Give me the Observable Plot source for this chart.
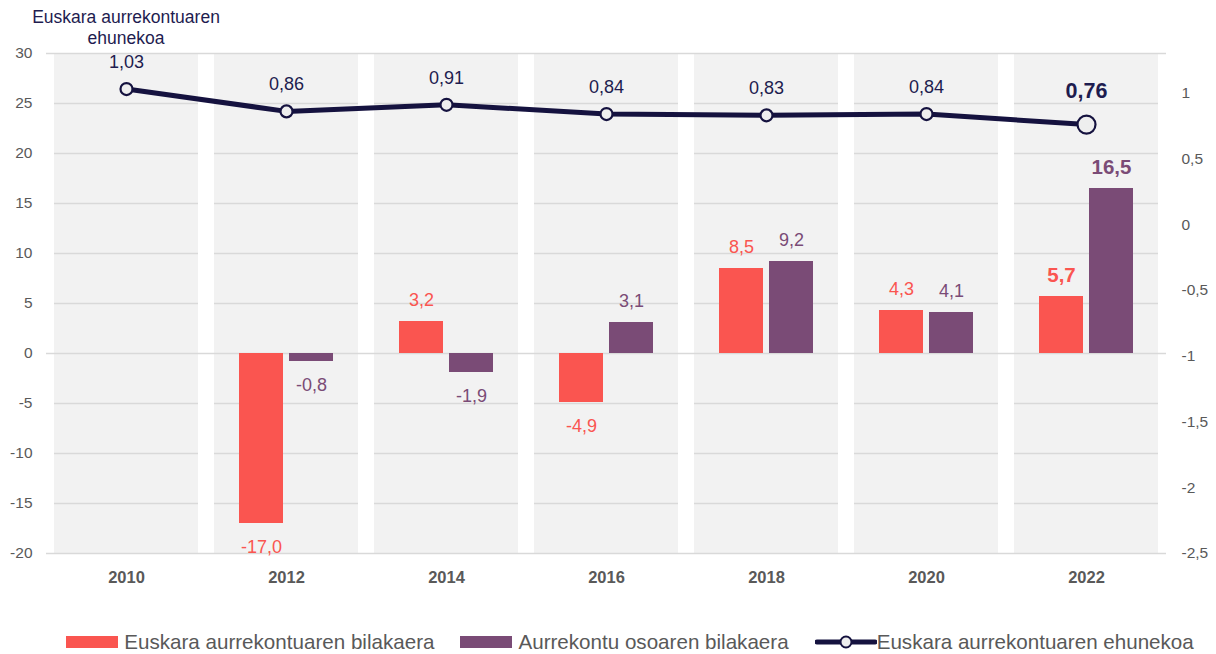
<!DOCTYPE html>
<html>
<head>
<meta charset="utf-8">
<script src="https://cdn.jsdelivr.net/npm/d3@7"></script>
<script src="https://cdn.jsdelivr.net/npm/@observablehq/plot@0.6"></script>
<style>
  html, body { margin: 0; padding: 0; background: #fff; }
  #wrap { position: relative; width: 1216px; height: 654px; font-family: "Liberation Sans", Arial, sans-serif; overflow: hidden; }
  #title { position: absolute; left: 0; top: 7px; width: 252px; text-align: center; font-size: 17.5px; line-height: 21px; color: #1e1c4f; }
  #legend { position: absolute; left: 22px; top: 630px; width: 1216px; display: flex; justify-content: center; align-items: center; gap: 0; font-size: 20.6px; color: #595959; }
  .item { display: flex; align-items: center; margin: 0 13px; }
  .sw { display: inline-block; width: 52px; height: 12px; margin-right: 6px; }
</style>
</head>
<body>
<div id="wrap">
  <div id="chart"></div>
  <div id="title">Euskara aurrekontuaren<br>ehunekoa</div>
  <div id="legend"></div>
</div>
<script>
const years = ["2010", "2012", "2014", "2016", "2018", "2020", "2022"];
const euskaraChange = [null, -17.0, 3.2, -4.9, 8.5, 4.3, 5.7];
const totalChange = [null, -0.8, -1.9, 3.1, 9.2, 4.1, 16.5];
const euskaraShare = [1.03, 0.86, 0.91, 0.84, 0.83, 0.84, 0.76];
const leftTicks = [-20, -15, -10, -5, 0, 5, 10, 15, 20, 25, 30];
const rightTicks = [-2.5, -2, -1.5, -1, -0.5, 0, 0.5, 1];
const leftDomain = [-20, 30];
const rightDomain = [-2.5, 1.3];
const seriesNames = ["Euskara aurrekontuaren bilakaera", "Aurrekontu osoaren bilakaera", "Euskara aurrekontuaren ehunekoa"];

const RED = "#fa5550", PURPLE = "#7a4b76", NAVY = "#15123f";
const toLeft = v => leftDomain[0] + (v - rightDomain[0]) / (rightDomain[1] - rightDomain[0]) * (leftDomain[1] - leftDomain[0]);
const fromLeft = v => rightDomain[0] + (v - leftDomain[0]) / (leftDomain[1] - leftDomain[0]) * (rightDomain[1] - rightDomain[0]);
const comma = (v, d) => v.toFixed(d).replace(".", ",");

const rows = years.map((year, i) => ({year, red: euskaraChange[i], purple: totalChange[i], share: euskaraShare[i]}));
const grid = years.flatMap(year => leftTicks.filter(t => t !== -20 && t !== 0 && t !== 30).map(t => ({year, t})));
const last = years[years.length - 1];

function barLabels(key, color, dx) {
  const data = rows.filter(d => d[key] != null);
  const common = {x: "year", y: key, dx, fill: color, text: d => comma(d[key], 1)};
  return [
    Plot.text(data.filter(d => d[key] >= 0 && d.year !== last), {...common, dy: -21, fontSize: 18}),
    Plot.text(data.filter(d => d[key] < 0 && d.year !== last), {...common, dy: 24, fontSize: 18}),
    Plot.text(data.filter(d => d.year === last), {...common, dy: -21, fontSize: 20.5, fontWeight: "bold"})
  ];
}

const chart = Plot.plot({
  width: 1216,
  height: 600,
  marginTop: 53,
  marginBottom: 47,
  marginLeft: 46,
  marginRight: 50,
  style: {fontFamily: "Liberation Sans, Arial, sans-serif", fontSize: "15px", color: "#595959", background: "transparent"},
  x: {type: "band", domain: years, paddingInner: 0.1, paddingOuter: 0.05, label: null},
  y: {domain: leftDomain, label: null},
  marks: [
    Plot.barY(years, {x: d => d, y1: leftDomain[0], y2: leftDomain[1], fill: "#f2f2f2"}),
    Plot.tickY(grid, {x: "year", y: "t", stroke: "#d9d9d9", strokeWidth: 1.5}),
    Plot.ruleY([leftDomain[0], 0, leftDomain[1]], {stroke: "#d9d9d9", strokeWidth: 1.5}),
    Plot.axisY({ticks: leftTicks, tickSize: 0, tickPadding: 14, tickFormat: d => String(d), fontSize: 15.5, color: "#595959"}),
    Plot.axisY({anchor: "right", ticks: rightTicks.map(toLeft), tickSize: 0, tickPadding: 15, textAnchor: "start",
      tickFormat: d => String(Math.round(fromLeft(d) * 10) / 10).replace(".", ","), fontSize: 15.5, color: "#595959"}),
    Plot.axisX({tickSize: 0, tickPadding: 18, fontSize: 16.5, fontWeight: "bold", color: "#595959"}),
    Plot.barY(rows.filter(d => d.red != null), {x: "year", y: "red", fill: RED, insetLeft: 25, insetRight: 75}),
    Plot.barY(rows.filter(d => d.purple != null), {x: "year", y: "purple", fill: PURPLE, insetLeft: 75, insetRight: 25}),
    ...barLabels("red", RED, -25),
    ...barLabels("purple", PURPLE, 25),
    Plot.line(rows, {x: "year", y: d => toLeft(d.share), stroke: NAVY, strokeWidth: 5}),
    Plot.dot(rows.filter(d => d.year !== last), {x: "year", y: d => toLeft(d.share), r: 6, fill: "#eeeeee", stroke: NAVY, strokeWidth: 2.2}),
    Plot.dot(rows.filter(d => d.year === last), {x: "year", y: d => toLeft(d.share), r: 9, fill: "#eeeeee", stroke: NAVY, strokeWidth: 2.2}),
    Plot.text(rows.filter(d => d.year !== last), {x: "year", y: d => toLeft(d.share), text: d => comma(d.share, 2), dy: -27, fontSize: 18, fill: "#1e1c4f"}),
    Plot.text(rows.filter(d => d.year === last), {x: "year", y: d => toLeft(d.share), text: d => comma(d.share, 2), dy: -33, fontSize: 21.5, fontWeight: "bold", fill: "#1e1c4f"})
  ]
});
document.getElementById("chart").appendChild(chart);

const legend = document.getElementById("legend");
const swatches = [
  `<span class="sw" style="background:${RED}"></span>`,
  `<span class="sw" style="background:${PURPLE}"></span>`,
  `<svg width="62" height="16" style="margin-right:0"><line x1="2" y1="8" x2="60" y2="8" stroke="${NAVY}" stroke-width="5" stroke-linecap="round"/><circle cx="31" cy="8" r="5.5" fill="#eeeeee" stroke="${NAVY}" stroke-width="2"/></svg>`
];
seriesNames.forEach((name, i) => {
  const el = document.createElement("div");
  el.className = "item";
  el.innerHTML = swatches[i] + `<span>${name}</span>`;
  legend.appendChild(el);
});
</script>
</body>
</html>
